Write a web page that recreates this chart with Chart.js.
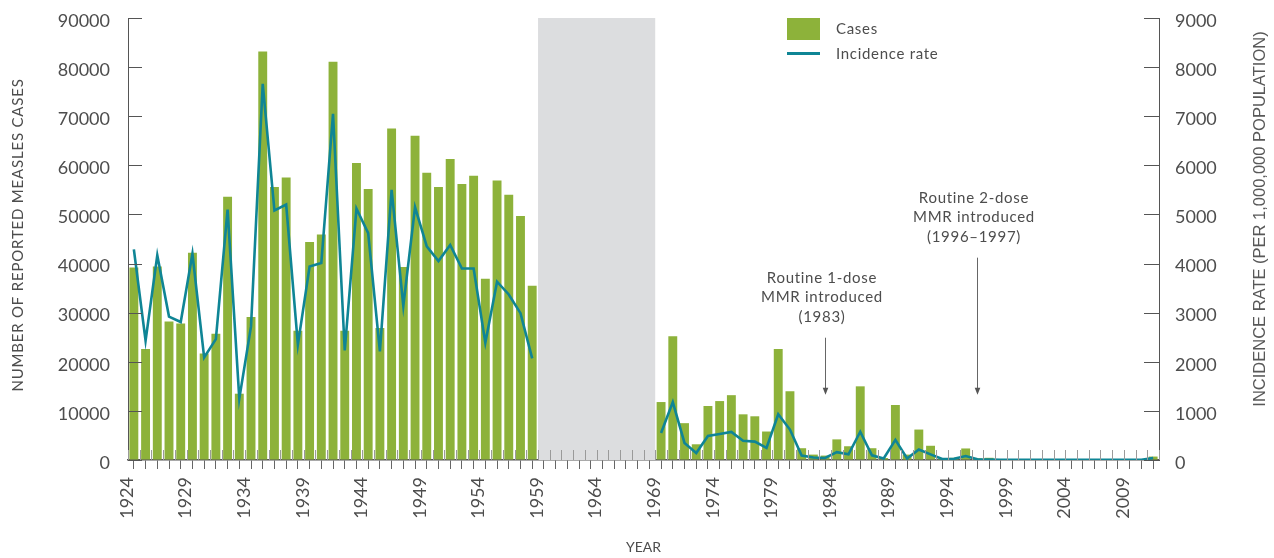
<!DOCTYPE html>
<html><head><meta charset="utf-8">
<script src="https://cdn.jsdelivr.net/npm/chart.js@4.4.1/dist/chart.umd.min.js"></script>
<style>html,body{margin:0;padding:0;background:#fff;}#wrap{width:1274px;height:558px;}</style>
</head><body><div id="wrap"><canvas id="c" width="1274" height="558"></canvas></div>
<script>
const years = [1924,1925,1926,1927,1928,1929,1930,1931,1932,1933,1934,1935,1936,1937,1938,1939,1940,1941,1942,1943,1944,1945,1946,1947,1948,1949,1950,1951,1952,1953,1954,1955,1956,1957,1958,1959,1960,1961,1962,1963,1964,1965,1966,1967,1968,1969,1970,1971,1972,1973,1974,1975,1976,1977,1978,1979,1980,1981,1982,1983,1984,1985,1986,1987,1988,1989,1990,1991,1992,1993,1994,1995,1996,1997,1998,1999,2000,2001,2002,2003,2004,2005,2006,2007,2008,2009,2010,2011];
const cases = [39200,22600,39400,28200,27800,42200,21700,25700,53600,13500,29100,83200,55600,57500,26300,44400,45900,81100,26300,60500,55200,26900,67500,39300,66000,58500,55600,61300,56200,57900,36900,56900,54000,49700,35500,
null,null,null,null,null,null,null,null,null,null,
11800,25200,7500,3200,11000,12000,13200,9300,8900,5800,22600,14000,2400,1100,900,4200,2800,15000,2400,400,11200,1100,6200,2900,200,450,2350,350,450,60,50,50,50,50,50,50,50,50,50,50,50,50,700];
const incidence = [4290,2430,4170,2920,2810,4200,2090,2460,5100,1250,2720,7660,5080,5200,2350,3940,4010,7050,2230,5120,4620,2210,5500,3140,5150,4350,4050,4380,3900,3900,2390,3630,3370,2990,2070,
null,null,null,null,null,null,null,null,null,null,
550,1180,347,143,490,530,571,390,375,245,932,620,90,50,40,160,115,575,95,30,410,30,215,115,20,25,80,15,8,5,5,5,5,5,5,5,5,5,5,5,5,5,40];
const caseTicks = [0,10000,20000,30000,40000,50000,60000,70000,80000,90000];
const rateTicks = [0,1000,2000,3000,4000,5000,6000,7000,8000,9000];
const labelEvery = 5;
const gapYears = [1959, 1969];
const notes = [
  {year:1983, lines:['Routine 1-dose','MMR introduced','(1983)'], from:24900, to:13300},
  {year:1996, lines:['Routine 2-dose','MMR introduced','(1996\u20131997)'], from:41200, to:13300}
];

const FONT = 'Lato, "Noto Sans", sans-serif';
const TXT = '#4d4d4d';
const GREEN = '#8db23a';
const TEAL = '#0f8595';

const firstYear = years[0], lastYear = years[years.length-1] + 1;
const barData = years.map((y,i)=>({x:y+0.5, y:cases[i]}));
const lineData = years.map((y,i)=>({x:y+0.5, y:incidence[i]}));

const decor = {
  id:'decor',
  beforeDatasetsDraw(chart){
    const {ctx, chartArea:a, scales:{x}} = chart;
    ctx.save();
    ctx.fillStyle = '#dcdddf';
    const x0 = x.getPixelForValue(gapYears[0]), x1 = x.getPixelForValue(gapYears[1]);
    ctx.fillRect(x0, a.top, x1-x0, a.bottom-a.top);
    ctx.restore();
  },
  afterDatasetsDraw(chart){
    const {ctx, chartArea:a, scales:{x,y,y2}} = chart;
    ctx.save();
    ctx.lineWidth = 1;
    ctx.strokeStyle = '#9a9a9a';
    x.ticks.forEach(t=>{
      const px = Math.round(x.getPixelForValue(t.value))+0.5;
      ctx.beginPath(); ctx.moveTo(px, a.bottom-10); ctx.lineTo(px, a.bottom); ctx.stroke();
    });
    ctx.strokeStyle = '#555';
    y.ticks.forEach(t=>{
      const py = Math.round(y.getPixelForValue(t.value))+0.5;
      ctx.beginPath(); ctx.moveTo(a.left, py); ctx.lineTo(a.left+14, py); ctx.stroke();
    });
    y2.ticks.forEach(t=>{
      const py = Math.round(y2.getPixelForValue(t.value))+0.5;
      ctx.beginPath(); ctx.moveTo(a.right-15, py); ctx.lineTo(a.right, py); ctx.stroke();
    });
    ctx.restore();
  },
  afterDraw(chart){
    const {ctx, chartArea:a, scales:{x,y}} = chart;
    const mid = (a.top+a.bottom)/2;
    ctx.save();
    ctx.fillStyle = TXT;
    ctx.textAlign = 'center'; ctx.textBaseline = 'middle';
    ctx.save(); ctx.translate(18.5, mid - 4); ctx.rotate(-Math.PI/2);
    ctx.font = '15px ' + FONT; ctx.letterSpacing = '0.8px';
    ctx.fillText('NUMBER OF REPORTED MEASLES CASES', 0, 0); ctx.restore();
    ctx.save(); ctx.translate(1260, mid - 20); ctx.rotate(-Math.PI/2);
    ctx.font = '16.5px "Liberation Sans", Arial, sans-serif'; ctx.fillStyle = '#585858';
    ctx.fillText('INCIDENCE RATE (PER 1,000,000 POPULATION)', 0, 0); ctx.restore();
    ctx.fillStyle = GREEN;
    ctx.fillRect(787, 18, 33, 22);
    ctx.strokeStyle = TEAL; ctx.lineWidth = 3;
    ctx.beginPath(); ctx.moveTo(787, 53.5); ctx.lineTo(820, 53.5); ctx.stroke();
    ctx.letterSpacing = '0.7px';
    ctx.fillStyle = TXT; ctx.font = '15px ' + FONT; ctx.textAlign = 'left';
    ctx.fillText(chart.data.datasets[1].label, 836, 29);
    ctx.fillText(chart.data.datasets[0].label, 836, 54);
    notes.forEach(n=>{
      const px = Math.round(x.getPixelForValue(n.year+0.5))+0.5;
      const top = y.getPixelForValue(n.from), bot = y.getPixelForValue(n.to);
      ctx.strokeStyle = '#666'; ctx.lineWidth = 1;
      ctx.beginPath(); ctx.moveTo(px, top); ctx.lineTo(px, bot-6); ctx.stroke();
      ctx.fillStyle = '#555';
      ctx.beginPath(); ctx.moveTo(px-2.8, bot-7); ctx.lineTo(px+2.8, bot-7); ctx.lineTo(px, bot); ctx.closePath(); ctx.fill();
      ctx.fillStyle = TXT; ctx.font = '15px ' + FONT; ctx.textAlign = 'center';
      const L = n.lines.length;
      n.lines.forEach((s,i)=>{
        ctx.fillText(s, px-3.5, top - 21 - (L-1-i)*19.5);
      });
    });
    ctx.restore();
  }
};

function fixV(w){ return s => { s.width = w; s.paddingTop = 0; s.paddingBottom = 0; }; }

new Chart(document.getElementById('c'), {
  data:{
    datasets:[
      {type:'line', label:'Incidence rate', data:lineData, yAxisID:'y2', borderColor:TEAL, borderWidth:2.6, pointRadius:0, tension:0, spanGaps:false, order:0},
      {type:'bar', label:'Cases', data:barData, yAxisID:'y', backgroundColor:GREEN, categoryPercentage:1, barPercentage:0.76, order:1}
    ]
  },
  options:{
    responsive:false, animation:false,
    layout:{padding:{top:18, left:0, right:0, bottom:0}},
    plugins:{legend:{display:false}, tooltip:{enabled:false}},
    scales:{
      x:{type:'linear', min:firstYear, max:lastYear, offset:false,
        afterBuildTicks(s){ s.ticks = []; for(let v=firstYear; v<=lastYear; v++) s.ticks.push({value:v}); },
        ticks:{autoSkip:false, minRotation:90, maxRotation:90, padding:8, labelOffset:-1, color:TXT, font:{family:FONT, size:18},
          callback:(v)=> ((v-firstYear)%labelEvery===0 && v<lastYear-1) ? String(v) : ''},
        grid:{drawOnChartArea:false, drawTicks:true, tickLength:9, color:'#666', lineWidth:1},
        border:{color:'#555', width:1.5},
        title:{display:true, text:'YEAR', color:TXT, font:{family:FONT, size:14}, padding:{top:0,bottom:2}},
        afterFit(s){ s.height = 98; s.paddingLeft = 0; s.paddingRight = 0; }
      },
      y:{type:'linear', position:'left', min:0, max:90000,
        afterBuildTicks(s){ s.ticks = caseTicks.map(v=>({value:v})); },
        ticks:{padding:18, labelOffset:3, color:TXT, font:{family:FONT, size:18}, callback:v=>String(v)},
        grid:{drawOnChartArea:false, drawTicks:false},
        border:{color:'#555', width:1},
        afterFit: fixV(128)
      },
      y2:{type:'linear', position:'right', min:0, max:9000,
        afterBuildTicks(s){ s.ticks = rateTicks.map(v=>({value:v})); },
        ticks:{padding:16, labelOffset:3, color:TXT, font:{family:FONT, size:18}, callback:v=>String(v)},
        grid:{drawOnChartArea:false, drawTicks:false},
        border:{color:'#555', width:1},
        afterFit: fixV(115)
      }
    }
  },
  plugins:[decor]
});
</script></body></html>
